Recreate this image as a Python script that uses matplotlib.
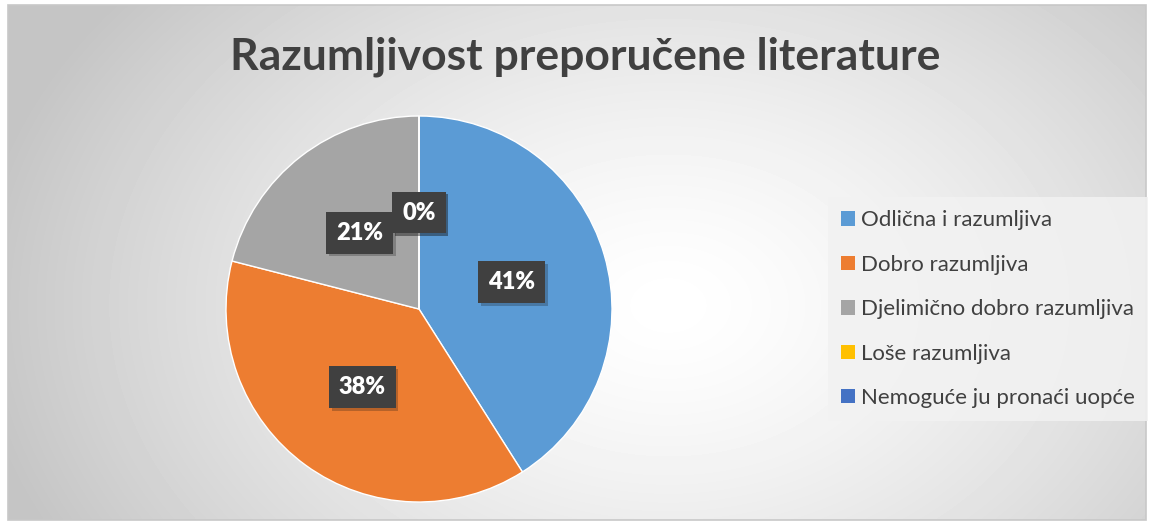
import matplotlib.pyplot as plt
import matplotlib.patheffects as pe
import numpy as np
from matplotlib.patches import Rectangle, Patch

categories = ['Odlična i razumljiva', 'Dobro razumljiva', 'Djelimično dobro razumljiva',
              'Loše razumljiva', 'Nemoguće ju pronaći uopće']
values = [41, 38, 21, 0, 0]
colors = ['#5B9BD5', '#ED7D31', '#A5A5A5', '#FFC000', '#4472C4']
title = 'Razumljivost preporučene literature'

plt.rcParams['font.family'] = ['Lato', 'DejaVu Sans']

W, H = 1154, 526
fig = plt.figure(figsize=(W / 100, H / 100), dpi=100)

# radial gradient background inside the chart frame
x0, y0, x1, y1 = 8, 5, 1146, 520
bg = fig.add_axes([x0 / W, 1 - y1 / H, (x1 - x0) / W, (y1 - y0) / H])
yy, xx = np.mgrid[0:y1 - y0, 0:x1 - x0]
cx, cy = 660, 300
d = np.sqrt(((xx - cx) / 700.0) ** 2 + ((yy - cy) / 500.0) ** 2)
d = np.clip(d, 0, 1)
shade = 1.0 - 0.23 * d ** 1.4
bg.imshow(shade, cmap='gray', vmin=0, vmax=1, aspect='auto', interpolation='bilinear')
bg.set_axis_off()
fig.patches.append(Rectangle((x0 / W, 1 - y1 / H), (x1 - x0) / W, (y1 - y0) / H,
                             transform=fig.transFigure, fill=False,
                             edgecolor='#c8c8c8', linewidth=1.2))

# pie
pcx, pcy, r = 419, 309, 193
ax = fig.add_axes([(pcx - r) / W, 1 - (pcy + r) / H, 2 * r / W, 2 * r / H])
wedges, texts, autotexts = ax.pie(values, colors=colors, startangle=90, counterclock=False,
                                  autopct=lambda p: f'{p:.0f}%', pctdistance=0.5,
                                  wedgeprops=dict(edgecolor='white', linewidth=1.0),
                                  textprops=dict(color='white', fontsize=17, fontweight='heavy'))
for t in autotexts:
    t.set_bbox(dict(boxstyle='square,pad=0.42', facecolor='#404040', edgecolor='none'))
    t.get_bbox_patch().set_path_effects([pe.SimplePatchShadow(offset=(2, -2), alpha=0.25),
                                         pe.Normal()])
ax.set_xlim(-1, 1)
ax.set_ylim(-1, 1)
ax.set_axis_off()

fig.text(585 / W, 1 - 57 / H, title, ha='center', va='center', fontsize=32,
         fontweight='bold', color='#404040')

handles = [Patch(facecolor=c, edgecolor='none') for c in colors]
leg = fig.legend(handles, categories, loc='upper left',
                 bbox_to_anchor=(828 / W, 1 - 197 / H), fontsize=16,
                 handlelength=0.62, handleheight=0.62, handletextpad=0.25,
                 labelspacing=1.1, borderpad=0.6, frameon=True, fancybox=False,
                 borderaxespad=0)
leg.get_frame().set_facecolor('#f2f2f2')
leg.get_frame().set_edgecolor('none')
leg.get_frame().set_alpha(0.85)
for t in leg.get_texts():
    t.set_color('#404040')

fig.savefig('out.png', dpi=100)
